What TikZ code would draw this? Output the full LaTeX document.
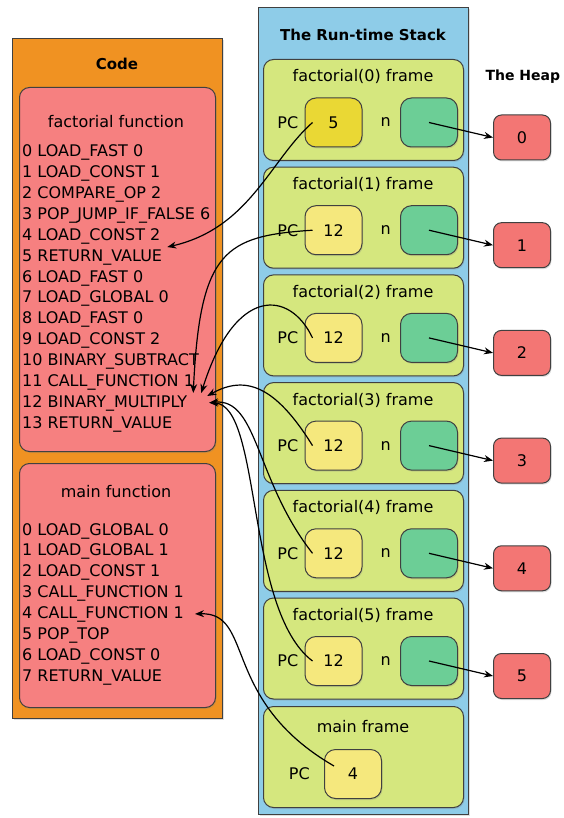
\documentclass[tikz,border=0pt]{standalone}
\usepackage{fontspec}
\setmainfont{DejaVu Sans}
\usetikzlibrary{positioning}
\usetikzlibrary{arrows.meta}
\usetikzlibrary{shadows}

\definecolor{codeorange}{RGB}{240,146,34}
\definecolor{funcred}{RGB}{246,128,128}
\definecolor{stackblue}{RGB}{142,204,232}
\definecolor{framegreen}{RGB}{213,231,126}
\definecolor{pcyellow}{RGB}{245,232,125}
\definecolor{pcgold}{RGB}{234,216,52}
\definecolor{ngreen}{RGB}{108,206,150}
\definecolor{heapred}{RGB}{243,118,116}

\tikzset{
  box/.style={draw=black!75, line width=1pt, rounded corners=10pt,
    drop shadow={opacity=0.25, shadow xshift=1pt, shadow yshift=-1.5pt}},
  frame/.style={box, fill=framegreen, minimum width=200pt, minimum height=101pt, anchor=north west},
  pcbox/.style={box, fill=pcyellow, minimum width=57pt, minimum height=49pt, rounded corners=11pt},
  nbox/.style={pcbox, fill=ngreen},
  heap/.style={box, fill=heapred, minimum width=57pt, minimum height=45pt, rounded corners=8pt},
  codeline/.style={anchor=base west, inner sep=2pt, text height=12pt, text depth=3pt},
  title/.style={anchor=base, font=\bfseries\fontsize{15}{18}\selectfont},
  link/.style={black, line width=1.2pt, ->, >={Stealth[length=9pt,width=7pt]}},
}

\begin{document}
\begin{tikzpicture}[x=1pt, y=-1pt, font=\fontsize{16}{19}\selectfont]
\useasboundingbox (0,0) rectangle (564,818);

% code objects
\node[box, fill=codeorange, rounded corners=0pt, minimum width=210pt, minimum height=680pt, anchor=north west] (code) at (12,38) {};
\node[title] (codet) at (117,70) {Code};

\node[box, fill=funcred, minimum width=196pt, minimum height=364pt, anchor=north west] (fact) at (19,87) {};
\node[anchor=base] (factt) at (116,128) {factorial function};
\foreach \i/\op in {0/LOAD\_FAST 0, 1/LOAD\_CONST 1, 2/COMPARE\_OP 2, 3/POP\_JUMP\_IF\_FALSE 6,
  4/LOAD\_CONST 2, 5/RETURN\_VALUE, 6/LOAD\_FAST 0, 7/LOAD\_GLOBAL 0, 8/LOAD\_FAST 0,
  9/LOAD\_CONST 2, 10/BINARY\_SUBTRACT, 11/CALL\_FUNCTION 1, 12/BINARY\_MULTIPLY, 13/RETURN\_VALUE}
  \node[codeline] (f\i) at (20,{157+20.85*\i}) {\i\ \op};

\node[box, fill=funcred, minimum width=196pt, minimum height=244pt, anchor=north west] (main) at (19,463) {};
\node[anchor=base] (maint) at (116,497) {main function};
\foreach \i/\op in {0/LOAD\_GLOBAL 0, 1/LOAD\_GLOBAL 1, 2/LOAD\_CONST 1, 3/CALL\_FUNCTION 1,
  4/CALL\_FUNCTION 1, 5/POP\_TOP, 6/LOAD\_CONST 0, 7/RETURN\_VALUE}
  \node[codeline] (m\i) at (20,{535+20.86*\i}) {\i\ \op};

% run-time stack
\node[box, fill=stackblue, rounded corners=0pt, minimum width=210pt, minimum height=807pt, anchor=north west] (stack) at (258,7) {};
\node[title] (stackt) at (363,41) {The Run-time Stack};
\node[title, anchor=base west, font=\bfseries\fontsize{14}{17}\selectfont] (heapt) at (482,81) {The Heap};

\foreach \k/\pc/\col in {0/5/pcgold, 1/12/pcyellow, 2/12/pcyellow, 3/12/pcyellow, 4/12/pcyellow, 5/12/pcyellow} {
  \pgfmathsetmacro\fy{59+107.7*\k}
  \node[frame] (fr\k) at (263,\fy) {};
  \node[anchor=base] (frt\k) at (363,\fy+23) {factorial(\k) frame};
  \node[pcbox, fill=\col] (pc\k) at (333.5,\fy+63.5) {\pc};
  \node[left=6pt of pc\k, inner sep=0pt] (pcl\k) {PC};
  \node[nbox] (nb\k) at (429,\fy+63.5) {};
  \node[left=9pt of nb\k, inner sep=0pt] (nl\k) {n};
  \node[heap] (hp\k) at (522,\fy+78.5) {\k};
  \draw[link] (nb\k.center) -- (hp\k.west);
}

\node[frame] (frm) at (263,706) {};
\node[anchor=base] (frmt) at (363,732) {main frame};
\node[pcbox] (pcm) at (353,774) {4};
\node[left=14pt of pcm, inner sep=0pt] (pclm) {PC};

% return addresses
\draw[link] ([xshift=8pt]pc0.west) .. controls (270,160) and (250,228) .. ([xshift=3pt]f5.north east);
\draw[link] ([xshift=8pt]pc1.west) .. controls (225,236) and (200,250) .. ([xshift=4pt]f12.north east);
\draw[link] ([xshift=8pt]pc2.west) .. controls (290,290) and (235,285) .. ([xshift=12pt]f12.north east);
\draw[link] ([xshift=8pt]pc3.west) .. controls (275,385) and (245,375) .. ([xshift=18pt,yshift=-3pt]f12.north east);
\draw[link] ([xshift=8pt]pc4.west) .. controls (255,480) and (258,398) .. ([xshift=20pt]f12.east);
\draw[link] ([xshift=8pt]pc5.west) .. controls (245,610) and (262,405) .. ([xshift=20pt]f12.east);
\draw[link] ([xshift=10pt,yshift=8pt]pcm.west) .. controls (220,700) and (255,612) .. ([xshift=9pt]m4.east);
\end{tikzpicture}
\end{document}
